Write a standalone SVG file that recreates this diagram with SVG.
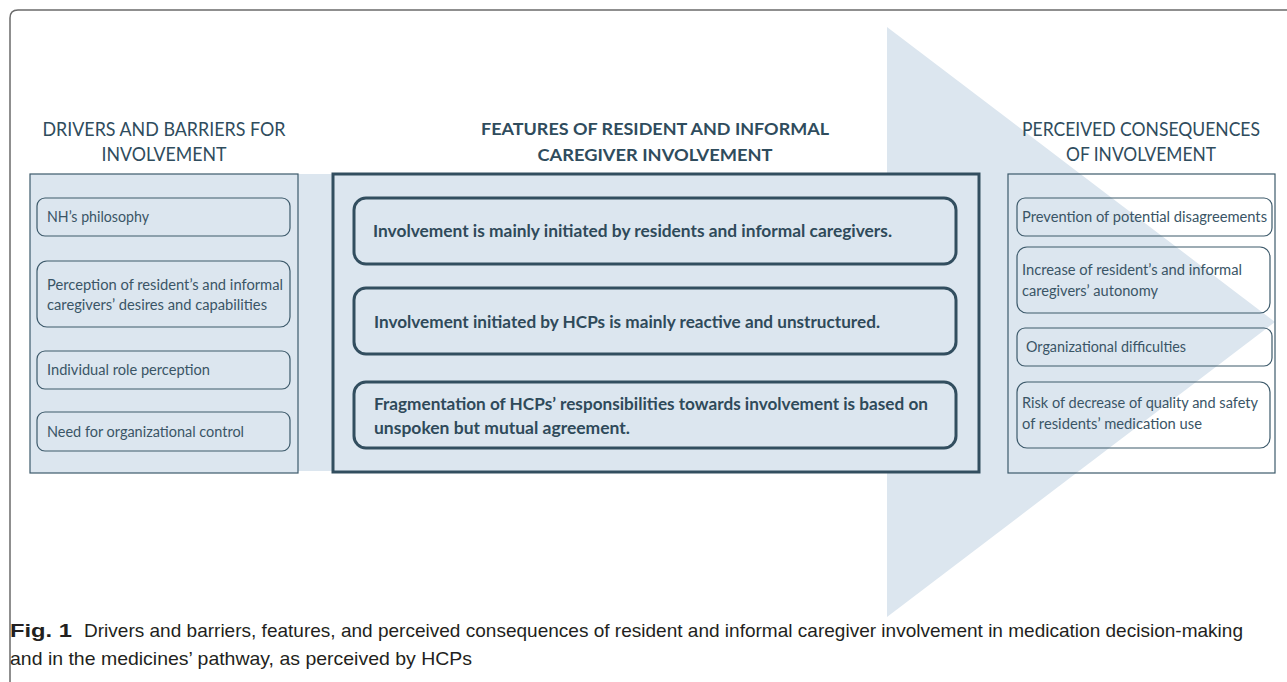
<svg xmlns="http://www.w3.org/2000/svg" width="1287" height="682" viewBox="0 0 1287 682">
<style>
.t{font-family:Lato,"Open Sans","Liberation Sans",sans-serif;fill:#3a5566;font-size:15.5px}
.hd{font-family:Lato,"Open Sans","Liberation Sans",sans-serif;fill:#2f4c5d;font-size:18.5px}
.hb{font-family:Lato,"Open Sans","Liberation Sans",sans-serif;fill:#2f4c5d;font-size:17.5px;font-weight:bold}
.b{font-family:Lato,"Open Sans","Liberation Sans",sans-serif;fill:#2f4a5a;font-size:17.5px;font-weight:bold}
.cap{font-family:"Liberation Sans",Arial,sans-serif;fill:#231f20;font-size:19px}
.thin{fill:none;stroke:#3d5a6b;stroke-width:1.2}
.thick{fill:none;stroke:#324e5f;stroke-width:3}
</style>
<rect width="1287" height="682" fill="#ffffff"/>
<path d="M10,690 V18 Q10,10 18,10 H1295" fill="none" stroke="#6b6b6b" stroke-width="1.5"/>
<g id="arrow">
<rect x="30" y="174" width="858" height="297" fill="#dce6ef"/>
<polygon points="887,27 1275,322 887,617" fill="#dce6ef"/>
</g>
<g id="drivers">
<text class="hd" x="164" y="136" text-anchor="middle" textLength="243" lengthAdjust="spacingAndGlyphs">DRIVERS AND BARRIERS FOR</text>
<text class="hd" x="164" y="161" text-anchor="middle" textLength="125" lengthAdjust="spacingAndGlyphs">INVOLVEMENT</text>
<rect x="30" y="174" width="268" height="299" fill="#dce6ef" stroke="#3d5a6b" stroke-width="1.2"/>
</g>
<g id="d1"><rect class="thin" x="37" y="198" width="253" height="38" rx="8"/><text class="t" x="47" y="222" textLength="102" lengthAdjust="spacingAndGlyphs">NH’s philosophy</text></g>
<g id="d2"><rect class="thin" x="37" y="261" width="253" height="66" rx="10"/><text class="t" x="47" y="290" textLength="236" lengthAdjust="spacingAndGlyphs">Perception of resident’s and informal</text><text class="t" x="47" y="310" textLength="220" lengthAdjust="spacingAndGlyphs">caregivers’ desires and capabilities</text></g>
<g id="d3"><rect class="thin" x="37" y="351" width="253" height="38" rx="8"/><text class="t" x="47" y="375" textLength="163" lengthAdjust="spacingAndGlyphs">Individual role perception</text></g>
<g id="d4"><rect class="thin" x="37" y="412" width="253" height="39" rx="8"/><text class="t" x="47" y="437" textLength="197" lengthAdjust="spacingAndGlyphs">Need for organizational control</text></g>
<g id="features">
<text class="hb" x="655" y="135" text-anchor="middle" textLength="348" lengthAdjust="spacingAndGlyphs">FEATURES OF RESIDENT AND INFORMAL</text>
<text class="hb" x="655" y="161" text-anchor="middle" textLength="235" lengthAdjust="spacingAndGlyphs">CAREGIVER INVOLVEMENT</text>
<rect class="thick" x="333" y="174" width="646" height="298"/>
</g>
<g id="f1"><rect class="thick" x="354" y="198" width="602" height="66" rx="12"/><text class="b" x="373" y="237" textLength="519" lengthAdjust="spacingAndGlyphs">Involvement is mainly initiated by residents and informal caregivers.</text></g>
<g id="f2"><rect class="thick" x="354" y="288" width="602" height="66" rx="12"/><text class="b" x="374" y="328" textLength="506" lengthAdjust="spacingAndGlyphs">Involvement initiated by HCPs is mainly reactive and unstructured.</text></g>
<g id="f3"><rect class="thick" x="354" y="382" width="602" height="66" rx="12"/><text class="b" x="374" y="410" textLength="554" lengthAdjust="spacingAndGlyphs">Fragmentation of HCPs’ responsibilities towards involvement is based on</text><text class="b" x="374" y="434" textLength="256" lengthAdjust="spacingAndGlyphs">unspoken but mutual agreement.</text></g>
<g id="consequences">
<text class="hd" x="1141" y="136" text-anchor="middle" textLength="238" lengthAdjust="spacingAndGlyphs">PERCEIVED CONSEQUENCES</text>
<text class="hd" x="1141" y="161" text-anchor="middle" textLength="150" lengthAdjust="spacingAndGlyphs">OF INVOLVEMENT</text>
<rect class="thin" x="1008" y="174" width="267" height="299"/>
</g>
<g id="c1"><rect class="thin" x="1017" y="198" width="255" height="38" rx="8"/><text class="t" x="1022" y="222" textLength="245" lengthAdjust="spacingAndGlyphs">Prevention of potential disagreements</text></g>
<g id="c2"><rect class="thin" x="1017" y="247" width="253" height="66" rx="10"/><text class="t" x="1022" y="275" textLength="220" lengthAdjust="spacingAndGlyphs">Increase of resident’s and informal</text><text class="t" x="1022" y="296" textLength="136" lengthAdjust="spacingAndGlyphs">caregivers’ autonomy</text></g>
<g id="c3"><rect class="thin" x="1017" y="328" width="255" height="38" rx="8"/><text class="t" x="1026" y="352" textLength="160" lengthAdjust="spacingAndGlyphs">Organizational difficulties</text></g>
<g id="c4"><rect class="thin" x="1017" y="382" width="253" height="66" rx="10"/><text class="t" x="1022" y="408" textLength="236" lengthAdjust="spacingAndGlyphs">Risk of decrease of quality and safety</text><text class="t" x="1022" y="429" textLength="180" lengthAdjust="spacingAndGlyphs">of residents’ medication use</text></g>
<g id="connectors"></g>
<g id="caption">
<text class="cap" x="10" y="637" font-weight="bold" textLength="62" lengthAdjust="spacingAndGlyphs">Fig. 1</text>
<text class="cap" x="84" y="637" textLength="1159" lengthAdjust="spacingAndGlyphs">Drivers and barriers, features, and perceived consequences of resident and informal caregiver involvement in medication decision-making</text>
<text class="cap" x="10" y="665" textLength="462" lengthAdjust="spacingAndGlyphs">and in the medicines’ pathway, as perceived by HCPs</text>
</g>
</svg>
